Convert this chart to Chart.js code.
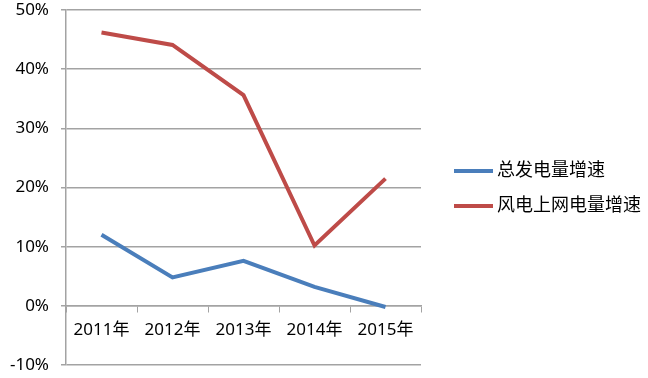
<!DOCTYPE html>
<html>
<head>
<meta charset="utf-8">
<script src="https://cdn.jsdelivr.net/npm/chart.js@4"></script>
<style>
  html, body { margin: 0; padding: 0; background: #fff; }
  #wrap { width: 648px; height: 378px; }
</style>
</head>
<body>
<div id="wrap"><canvas id="myChart" width="648" height="378"></canvas></div>
<script>
const years = ["2011年", "2012年", "2013年", "2014年", "2015年"];
const totalGrowth = [12.0, 4.8, 7.6, 3.2, -0.2];   // 总发电量增速 (%)
const windGrowth = [46.2, 44.1, 35.6, 10.2, 21.5]; // 风电上网电量增速 (%)
const yTicks = [-10, 0, 10, 20, 30, 40, 50];

const FONT = "'Noto Sans', 'Noto Sans CJK SC', sans-serif";
const GRID = "#a3a3a3";

// legend drawn by hand: the built-in right legend gets capped in width by the layout
const sideLegend = {
  id: "sideLegend",
  afterDraw(chart) {
    const c = chart.ctx;
    c.save();
    c.font = "18px " + FONT;
    c.textBaseline = "middle";
    c.fillStyle = "#000";
    chart.data.datasets.forEach((ds, i) => {
      const y = 171 + i * 35;
      c.fillStyle = ds.borderColor;
      c.fillRect(454, y - 2, 39, 4);
      c.fillStyle = "#000";
      c.fillText(ds.label, 497, y);
    });
    c.restore();
  },
};

const ctx = document.getElementById("myChart").getContext("2d");
new Chart(ctx, {
  type: "line",
  data: {
    labels: years,
    datasets: [
      {
        label: "总发电量增速",
        data: totalGrowth,
        borderColor: "#4a7ebb",
        borderWidth: 4,
        pointRadius: 0,
        tension: 0,
      },
      {
        label: "风电上网电量增速",
        data: windGrowth,
        borderColor: "#be4b48",
        borderWidth: 4,
        pointRadius: 0,
        tension: 0,
      },
    ],
  },
  plugins: [sideLegend],
  options: {
    responsive: false,
    animation: false,
    layout: { padding: { top: 10, bottom: 13, left: 0, right: 227 } },
    plugins: {
      tooltip: { enabled: false },
      legend: { display: false },
    },
    scales: {
      x: {
        position: { y: 0 },
        offset: true,
        grid: {
          drawOnChartArea: false,
          tickLength: 6,
          color: GRID,
          offset: true,
        },
        border: { color: GRID, width: 1.5 },
        ticks: {
          color: "#000",
          font: { family: FONT, size: 17 },
          padding: 8,
          maxRotation: 0,
        },
      },
      y: {
        min: -10,
        max: 50,
        afterBuildTicks: (s) => {
          s.ticks = yTicks.map((v) => ({ value: v }));
        },
        afterFit: (s) => {
          s.width = 66;
          s.paddingTop = 0;
          s.paddingBottom = 0;
        },
        grid: { color: GRID, lineWidth: 1.5, tickLength: 5 },
        border: { color: GRID, width: 1.5 },
        ticks: {
          color: "#000",
          font: { family: FONT, size: 17 },
          padding: 12,
          callback: (v) => v + "%",
        },
      },
    },
  },
});
</script>
</body>
</html>
